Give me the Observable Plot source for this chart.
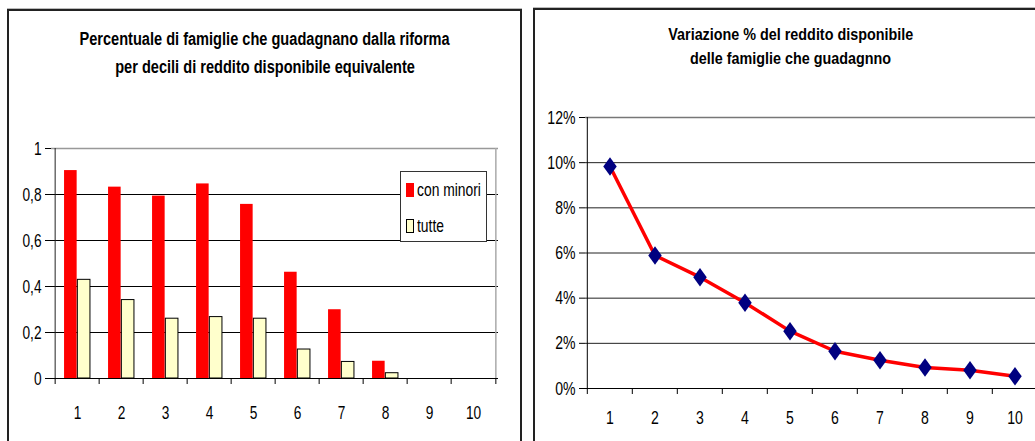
<!DOCTYPE html>
<html>
<head>
<meta charset="utf-8">
<script src="https://cdn.jsdelivr.net/npm/d3@7"></script>
<script src="https://cdn.jsdelivr.net/npm/@observablehq/plot@0.6"></script>
<style>
  html, body { margin: 0; padding: 0; background: #fff; }
  body { width: 1035px; height: 441px; overflow: hidden; position: relative;
         font-family: "Liberation Sans", Arial, sans-serif; }
  .panel { position: absolute; border: 2px solid #222; box-shadow: 0 -1px 0 #bbb; background: transparent; }
  .title { position: absolute; text-align: center; font-weight: bold; color: #000; white-space: nowrap; }
  .title div { text-align: center; }
  .title span { display: inline-block; transform-origin: center; }
  .plot { position: absolute; top: 0; }
  .plot svg { max-width: none !important; }
  .legend { position: absolute; background: #fff; border: 1px solid #333; font-size: 18px; line-height: 18px; }
  .legend .sw { position: absolute; box-sizing: border-box; width: 8px; height: 14px; }
  .legend .tx { position: absolute; white-space: nowrap; display: inline-block; transform-origin: left center; transform: scaleX(0.77); }
</style>
</head>
<body>
<div class="panel" style="left:7px; top:9px; width:511px; height:500px;"></div>
<div class="panel" style="left:533px; top:8px; width:600px; height:500px;"></div>
<div class="title" id="t1" style="left:8px; width:514px; top:25px; font-size:18px; line-height:28px;"></div>
<div class="title" id="t2" style="left:535px; width:512px; top:22px; font-size:16.5px; line-height:24px;"></div>
<div id="left" class="plot" style="left:0px; width:530px;"></div>
<div id="right" class="plot" style="left:530px; width:520px;"></div>
<div class="legend" id="legend" style="left:400px; top:171px; width:85px; height:69px;"></div>
<script>
// ---- data ----
const deciles = [1, 2, 3, 4, 5, 6, 7, 8, 9, 10];
const conMinori = [0.904, 0.832, 0.793, 0.846, 0.757, 0.462, 0.299, 0.075, 0, 0];
const tutte = [0.429, 0.341, 0.26, 0.267, 0.26, 0.126, 0.072, 0.023, 0, 0];
const variazione = [0.0983, 0.0589, 0.0493, 0.038, 0.0254, 0.0165, 0.0125, 0.0093, 0.0081, 0.0054];
const leftTicks = [0, 0.2, 0.4, 0.6, 0.8, 1];
const rightTicks = [0, 0.02, 0.04, 0.06, 0.08, 0.10, 0.12];
const seriesNames = ["con minori", "tutte"];
const title1 = ["Percentuale di famiglie che guadagnano dalla riforma", "per decili di reddito disponibile equivalente"];
const title2 = ["Variazione % del reddito disponibile", "delle famiglie che guadagnno"];

const RED = "#ff0000", BEIGE = "#ffffcc", NAVY = "#000080";
const FONT = '"Liberation Sans", Arial, sans-serif';

function setTitle(id, lines, k) {
  const el = document.getElementById(id);
  lines.forEach(l => {
    const row = document.createElement("div");
    const sp = document.createElement("span");
    sp.textContent = l;
    sp.style.transform = `scaleX(${k})`;
    row.appendChild(sp);
    el.appendChild(row);
  });
}
setTitle("t1", title1, 0.81);
setTitle("t2", title2, 0.87);

// compress svg text horizontally (narrow font look)
function narrow(svg, k) {
  svg.querySelectorAll("text").forEach(t => {
    const L = t.getComputedTextLength();
    if (L > 0) {
      t.setAttribute("textLength", (L * k).toFixed(2));
      t.setAttribute("lengthAdjust", "spacingAndGlyphs");
    }
  });
}

const barData = deciles.map((d, i) => ({decile: d, a: conMinori[i], b: tutte[i]}));
const lineData = deciles.map((d, i) => ({decile: d, v: variazione[i]}));

// ---- left chart ----
const LW = 530, LML = 51, LMR = 32, LMT = 148, LMB = 63;
const lbw = (LW - LML - LMR) / deciles.length;
const barW = 13.3;
const commaFmt = d => (d === 0 || d === 1) ? String(d) : d.toFixed(1).replace(".", ",");

const left = Plot.plot({
  width: LW, height: 441,
  marginLeft: LML, marginRight: LMR, marginTop: LMT, marginBottom: LMB,
  style: {fontFamily: FONT, fontSize: "19px", color: "#000", background: "transparent", overflow: "visible", maxWidth: "none"},
  x: {type: "band", domain: deciles, padding: 0, label: null},
  y: {domain: [0, 1], label: null},
  marks: [
    Plot.gridY(leftTicks.filter(t => t > 0 && t < 1), {stroke: "#000", strokeOpacity: 1, strokeWidth: 1}),
    Plot.ruleY([1], {stroke: "#999", strokeWidth: 1.5}),
    Plot.ruleX([deciles[deciles.length - 1]], {dx: lbw / 2, stroke: "#aaa", strokeWidth: 1.5}),
    Plot.barY(barData, {x: "decile", y: "a", fill: RED, insetLeft: lbw / 2 - barW, insetRight: lbw / 2}),
    Plot.barY(barData.filter(d => d.b > 0), {x: "decile", y: "b", fill: BEIGE, stroke: "#000", strokeWidth: 1, insetLeft: lbw / 2, insetRight: lbw / 2 - barW}),
    Plot.ruleY([0], {stroke: "#000", strokeWidth: 1}),
    Plot.ruleX([deciles[0]], {dx: -lbw / 2, stroke: "#222", strokeWidth: 1}),
    Plot.ruleX(deciles, {x: d => d, dx: -lbw / 2, y1: 0, y2: 0, insetBottom: -6, stroke: "#000"}),
    Plot.ruleX([deciles[deciles.length - 1]], {dx: lbw / 2, y1: 0, y2: 0, insetBottom: -6, stroke: "#000"}),
    Plot.axisY(leftTicks, {tickSize: 6, tickPadding: 4, tickFormat: commaFmt, fontSize: 19, label: null}),
    Plot.axisX({tickSize: 0, tickPadding: 27, fontSize: 19, label: null})
  ]
});
document.getElementById("left").appendChild(left);
narrow(left, 0.72);

// ---- right chart ----
const RW = 520, RML = 55, RMT = 117, RMB = 53;
const RMR = RW - (1039 - 530);
const rbw = (RW - RML - RMR) / deciles.length;
const diamond = {
  draw(context, size) {
    const s = Math.sqrt(size / Math.PI);
    const h = s * 1.65, w = s * 1.2;
    context.moveTo(0, -h); context.lineTo(w, 0); context.lineTo(0, h); context.lineTo(-w, 0); context.closePath();
  }
};
const right = Plot.plot({
  width: RW, height: 441,
  marginLeft: RML, marginRight: RMR, marginTop: RMT, marginBottom: RMB,
  style: {fontFamily: FONT, fontSize: "19px", color: "#000", background: "transparent", overflow: "visible", maxWidth: "none"},
  x: {type: "band", domain: deciles, padding: 0, label: null},
  y: {domain: [0, 0.12], label: null},
  marks: [
    Plot.gridY(rightTicks.filter(t => t > 0 && t < 0.12), {stroke: "#222", strokeOpacity: 1, strokeWidth: 1}),
    Plot.ruleY([0.12], {stroke: "#777", strokeWidth: 1.5}),
    Plot.ruleY([0], {stroke: "#000", strokeWidth: 1}),
    Plot.ruleX([deciles[0]], {dx: -rbw / 2, stroke: "#000", strokeWidth: 1}),
    Plot.ruleX(deciles, {x: d => d, dx: -rbw / 2, y1: 0, y2: 0, insetBottom: -6, stroke: "#000"}),
    Plot.line(lineData, {x: "decile", y: "v", stroke: RED, strokeWidth: 3.5}),
    Plot.dot(lineData, {x: "decile", y: "v", symbol: diamond, r: 5.6, fill: NAVY, stroke: "none"}),
    Plot.axisY(rightTicks, {tickSize: 6, tickPadding: 4, tickFormat: d => Math.round(d * 100) + "%", fontSize: 19, label: null}),
    Plot.axisX({tickSize: 0, tickPadding: 22, fontSize: 19, label: null})
  ]
});
document.getElementById("right").appendChild(right);
narrow(right, 0.74);

// ---- legend (HTML) ----
const legend = document.getElementById("legend");
const legendStyles = [
  {fill: RED, border: "none", swTop: 11, txTop: 9},
  {fill: BEIGE, border: "1px solid #000", swTop: 47, txTop: 45}
];
seriesNames.forEach((name, i) => {
  const s = legendStyles[i];
  const sw = document.createElement("span");
  sw.className = "sw";
  sw.style.left = "5px";
  sw.style.top = s.swTop + "px";
  sw.style.background = s.fill;
  sw.style.border = s.border;
  legend.appendChild(sw);
  const tx = document.createElement("span");
  tx.className = "tx";
  tx.style.left = "16px";
  tx.style.top = s.txTop + "px";
  tx.textContent = name;
  legend.appendChild(tx);
});
</script>
</body>
</html>
